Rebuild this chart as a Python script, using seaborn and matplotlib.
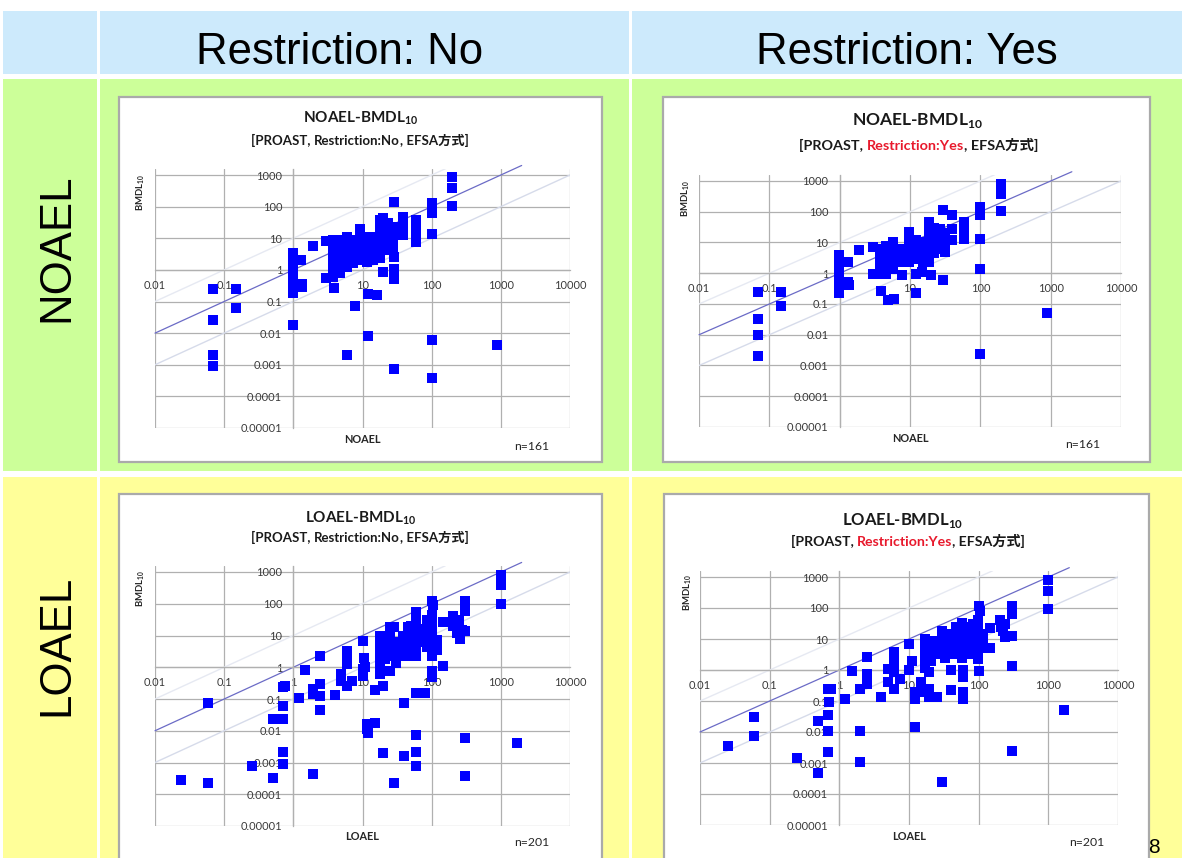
import numpy as np
import pandas as pd
import matplotlib
matplotlib.use("Agg")
import matplotlib.pyplot as plt
from matplotlib.patches import Rectangle
from matplotlib.ticker import FixedLocator, NullLocator
from matplotlib.offsetbox import TextArea, HPacker, AnnotationBbox
import seaborn as sns

# ---------------------------------------------------------------- data
# NOAEL vs BMDL10, PROAST without restriction
noael_no_x = [0.068, 0.068, 0.068, 0.068, 0.147, 0.147,
              1, 1, 1, 1, 1, 1, 1, 1, 1.27, 1.32, 1.35, 1.94, 3.0, 3.0, 3.9,
              5.9, 7.8, 12, 16, 12, 20, 29, 29, 29, 29, 29,
              39, 39, 39, 39, 59, 59, 59, 59, 100, 100, 100, 100, 100, 100,
              200, 200, 200, 890,
              3.8, 3.8, 3.8, 3.8, 3.8, 3.8, 3.8, 3.8, 3.8, 3.8, 3.8,
              4.7, 4.7, 4.7, 4.7, 4.7, 4.7, 4.7,
              5.9, 5.9, 5.9, 5.9, 5.9, 5.9,
              7.3, 7.3, 7.3, 7.3, 7.3,
              9.2, 9.2, 9.2, 9.2, 9.2, 9.2,
              11.5, 11.5, 11.5, 11.5, 11.5,
              14.3, 14.3, 14.3, 14.3, 14.3,
              17.8, 17.8, 17.8, 17.8, 17.8, 17.8, 17.8,
              20, 20, 20, 20, 20, 20,
              23.5, 23.5, 23.5, 23.5, 23.5,
              27.8, 27.8, 27.8, 27.8]
noael_no_bmdl = [0.24, 0.026, 0.0021, 0.00092, 0.25, 0.062,
                 3.3, 2.0, 1.25, 0.68, 0.42, 0.26, 0.19, 0.018, 2.1, 0.37, 0.29, 5.8, 8.1, 0.54, 0.27,
                 0.0021, 0.073, 0.17, 0.16, 0.008, 0.87, 145, 2.6, 1.1, 0.5, 0.00076,
                 48, 30, 20, 12.6, 38, 21, 12, 7.7, 132, 100, 61, 13.5, 0.006, 0.00039,
                 840, 380, 105, 0.0042,
                 8.7, 6.9, 5.4, 4.2, 3.3, 2.6, 2.0, 1.6, 1.25, 0.77, 0.6,
                 8.7, 5.4, 4.2, 2.6, 1.6, 0.98, 0.77,
                 11.2, 6.9, 4.2, 3.3, 2.0, 1.25,
                 8.7, 5.4, 3.3, 2.0, 1.6,
                 20, 14, 6.9, 4.2, 2.6, 2.0,
                 11.2, 6.9, 5.4, 2.6, 1.8,
                 11.2, 8.7, 4.2, 3.3, 2.0,
                 37, 23, 14, 8.7, 5.4, 3.3, 2.4,
                 45, 30, 18, 11, 6.9, 4.2,
                 29.5, 18, 11.2, 6.9, 4.2,
                 23, 14, 8.7, 5.4]

# NOAEL vs BMDL10, PROAST with restriction
noael_yes_x = [0.069, 0.069, 0.069, 0.069, 0.148, 0.148,
               0.98, 0.98, 0.98, 0.98, 0.98, 0.98, 1.31, 1.31, 1.35, 1.9, 2.96, 2.96,
               3.9, 4.8, 6.0, 7.8, 12, 12, 15, 20, 29.5, 29.5,
               40, 40, 40, 59, 59, 59, 100, 100, 100, 100, 100,
               195, 195, 195, 890,
               3.7, 3.7, 3.7, 3.7, 3.7,
               4.6, 4.6, 4.6, 4.6, 4.6,
               5.7, 5.7, 5.7, 5.7, 5.7,
               7.1, 7.1, 7.1,
               9.8, 9.8, 9.8, 9.8, 9.8,
               12.2, 12.2, 12.2, 12.2,
               15.2, 15.2, 15.2, 15.2,
               18.9, 18.9, 18.9, 18.9, 18.9, 18.9, 18.9,
               22.3, 22.3, 22.3, 22.3, 22.3,
               26.4, 26.4, 26.4, 26.4,
               31, 31, 31]
noael_yes_bmdl = [0.25, 0.033, 0.010, 0.0020, 0.25, 0.085,
                  3.8, 2.3, 1.1, 0.52, 0.36, 0.22, 2.3, 0.52, 0.4, 5.6, 7.1, 0.98,
                  0.26, 0.13, 0.15, 0.85, 0.22, 0.98, 1.1, 0.85, 0.59, 112,
                  76, 28, 12, 47, 22, 13, 142, 76, 13, 1.4, 0.0023,
                  820, 390, 103, 0.052,
                  6.3, 3.8, 2.3, 1.4, 0.98,
                  7.5, 5.0, 3.0, 1.8, 0.98,
                  10.4, 6.3, 3.8, 2.3, 1.4,
                  6.3, 3.8, 2.3,
                  22, 10.4, 6.3, 3.8, 2.3,
                  12, 8.0, 4.5, 3.0,
                  10.4, 6.3, 3.8, 2.3,
                  45, 28, 17, 10.4, 6.3, 3.8, 2.3,
                  30, 17, 10.4, 6.3, 4.5,
                  28, 17, 10.4, 6.3,
                  20, 10.4, 5.0]

# LOAEL vs BMDL10, PROAST without restriction
loael_no_x = [0.024, 0.059, 0.059, 0.25, 0.50, 0.50,
              0.70, 0.75, 0.70, 0.70, 0.70, 0.70, 1.22, 1.47,
              1.94, 1.94, 1.94, 2.42, 2.42, 2.42, 2.42,
              4.0, 4.9, 4.9, 5.9, 5.9, 5.9, 5.9, 7.0,
              10, 10, 10, 10.5, 11, 11.5, 11.5, 12, 15, 15, 20, 20,
              29, 29, 40, 40, 59, 59, 59, 59, 59, 80,
              100, 105, 100, 100, 118, 118, 147, 147,
              205, 205, 230, 250, 260, 270,
              300, 300, 300, 300, 300, 1000, 1000, 1000, 1700,
              17.8, 17.8, 17.8, 17.8, 17.8, 17.8, 17.8,
              21, 21, 21, 21,
              25, 25, 25, 25, 25, 25,
              31, 31, 31, 31,
              39, 39, 39, 39,
              46, 46, 46, 46, 46,
              51, 51, 51, 51,
              60, 60, 60, 60, 60, 60,
              71, 71, 71,
              85, 85, 85, 85, 85,
              100, 100, 100, 100, 100, 100]
loael_no_bmdl = [0.00029, 0.076, 0.00023, 0.00079, 0.024, 0.00032,
                 0.24, 0.25, 0.06, 0.024, 0.0021, 0.00091, 0.105, 0.81,
                 0.00044, 0.2, 0.14, 2.2, 0.29, 0.126, 0.044,
                 0.13, 0.6, 0.37, 3.3, 2.0, 1.26, 0.26, 0.37,
                 6.9, 0.87, 0.54, 2.0, 1.0, 0.016, 0.011, 0.0086, 0.19, 0.018, 0.002, 0.26,
                 18, 0.00022, 0.076, 0.0016, 54, 0.16, 0.0076, 0.0022, 0.00076, 0.16,
                 126, 90, 0.78, 0.48, 7.4, 3.6, 26, 1.1,
                 40, 20, 12, 30, 8, 15,
                 126, 61, 14, 0.006, 0.00038, 780, 380, 100, 0.0042,
                 9.9, 6.1, 4.0, 2.3, 1.4, 0.87, 0.6,
                 9.9, 6.1, 3.7, 1.8,
                 18, 10, 6.0, 3.7, 2.3, 0.75,
                 6.1, 3.7, 2.3, 1.4,
                 10, 6.1, 3.7, 2.3,
                 18, 10, 6.1, 3.7, 2.3,
                 20, 12, 6.1, 3.0,
                 26, 16, 10, 6.1, 3.7, 2.3,
                 16, 10, 6.1,
                 30, 20, 10, 6.1, 4.5,
                 43, 26, 16, 7.8, 3.7, 2.3]

# LOAEL vs BMDL10, PROAST with restriction
loael_yes_x = [0.025, 0.059, 0.059, 0.25, 0.50, 0.50,
               0.69, 0.77, 0.72, 0.69, 0.69, 0.69, 1.2, 1.5,
               1.97, 1.97, 1.97, 2.46, 2.46, 2.46, 2.46,
               4.0, 5.0, 5.0, 6.1, 6.1, 6.1, 6.1, 7.4,
               10, 10, 11, 12, 12, 12, 15, 15,
               19.5, 19.5, 19.5, 25, 29.5, 29.5, 29.5,
               40, 40, 60, 60, 60, 60, 100, 105, 100,
               145, 145, 200, 210, 220, 235, 240,
               300, 300, 300, 300, 300, 1000, 1000, 1000, 1700,
               16.9, 16.9, 16.9, 16.9, 16.9, 16.9,
               21, 21, 21, 21,
               26, 26, 26,
               33, 33, 33, 33,
               41, 41, 41, 41,
               48, 48, 48, 48, 48,
               57, 57, 57, 57, 57, 57,
               70, 70, 70, 70, 70,
               83, 83, 83, 83,
               98, 98, 98, 98, 98, 98, 98,
               115, 115, 115]
loael_yes_bmdl = [0.0035, 0.030, 0.0074, 0.00145, 0.023, 0.00048,
                  0.25, 0.25, 0.091, 0.035, 0.0107, 0.0022, 0.117, 0.91,
                  0.25, 0.0107, 0.0011, 2.6, 0.74, 0.51, 0.36,
                  0.13, 1.05, 0.4, 3.7, 1.8, 0.85, 0.25, 0.51,
                  6.9, 1.0, 2.0, 0.19, 0.12, 0.014, 0.4, 0.19,
                  0.85, 0.25, 0.13, 0.13, 18.5, 3.5, 0.00025,
                  1.0, 0.22, 1.0, 0.6, 0.2, 0.12, 117, 80, 0.96,
                  23, 5.3, 40, 25, 18, 12, 30,
                  117, 63, 12.7, 1.38, 0.0025, 780, 356, 96, 0.05,
                  10, 7.0, 5.0, 3.3, 2.0, 1.2,
                  8.8, 5.3, 3.3, 2.0,
                  8.8, 5.3, 3.3,
                  8.8, 5.3, 3.3, 2.5,
                  14.4, 8.8, 5.3, 3.3,
                  23.6, 14.4, 8.8, 5.3, 3.3,
                  33, 20, 12, 7.0, 4.0, 2.5,
                  23.6, 14.4, 8.8, 5.3, 3.3,
                  30, 18, 10, 6.0,
                  40, 23.6, 14.4, 8.8, 5.3, 3.3, 2.3,
                  14, 8.0, 5.3]

column_titles = ["Restriction: No", "Restriction: Yes"]
row_titles = ["NOAEL", "LOAEL"]
x_tick_values = [0.01, 0.1, 1, 10, 100, 1000, 10000]
x_tick_labels = ["0.01", "0.1", "1", "10", "100", "1000", "10000"]
y_tick_values = [1e-5, 1e-4, 1e-3, 1e-2, 0.1, 1, 10, 100, 1000]
y_tick_labels = ["0.00001", "0.0001", "0.001", "0.01", "0.1", "1", "10", "100", "1000"]
sample_sizes = ["n=161", "n=201"]

# ---------------------------------------------------------------- style
sns.set_theme(style="white")
plt.rcParams["font.family"] = ["Lato", "Noto Sans CJK JP", "DejaVu Sans"]
plt.rcParams["mathtext.fontset"] = "custom"
plt.rcParams["mathtext.rm"] = "Lato"
plt.rcParams["mathtext.bf"] = "Lato:bold"

W, H = 1182, 858
fig = plt.figure(figsize=(W / 100, H / 100), dpi=100)
fig.patch.set_facecolor("white")

HEAD = "#cdeafc"
GREEN = "#ccff99"
YELLOW = "#ffff99"
GRID = "#b0b0b0"
POINT = "#0000ff"
DIAG = "#6b6bc6"
FAINT_LOW = "#d6dbea"
FAINT_HIGH = "#e6e9f2"
TICK = "#3a3a3a"


def fx(x):
    return x / W


def fy(y):
    return 1 - y / H


def cell(x0, y0, x1, y1, color, edge=None, lw=0):
    fig.add_artist(Rectangle((fx(x0), fy(y1)), (x1 - x0) / W, (y1 - y0) / H,
                             transform=fig.transFigure, facecolor=color,
                             edgecolor=edge if edge else color, linewidth=lw,
                             zorder=0))


# table background
cols = [(3, 97), (100, 629), (632, 1182)]
rows = [(11, 74, HEAD), (79, 471, GREEN), (477, 870, YELLOW)]
for (y0, y1, c) in rows:
    for (x0, x1) in cols:
        cell(x0, y0, x1, y1, c)

for title, cx in zip(column_titles, [340, 907]):
    fig.text(fx(cx), fy(64), title, ha="center", va="baseline",
             fontsize=31.5, family=["Liberation Sans"], color="black")

for title, cy in zip(row_titles, [248, 645]):
    fig.text(fx(68), fy(cy), title, ha="center", va="baseline",
             rotation=90, rotation_mode="anchor",
             fontsize=31.5, family=["Liberation Sans"], color="black")

fig.text(fx(1154), fy(857), "8", ha="center", va="bottom", fontsize=15,
         family=["Liberation Sans"], color="black")


def subtitle(cx, cy, restricted, fs):
    props = dict(fontsize=fs, fontweight="bold", color="#1a1a1a")
    red = dict(fontsize=fs, fontweight="bold", color="#e8192c")
    parts = [TextArea("[PROAST, ", textprops=props)]
    if restricted:
        parts.append(TextArea("Restriction:Yes", textprops=red))
    else:
        parts.append(TextArea("Restriction:No", textprops=props))
    parts.append(TextArea(", EFSA方式]", textprops=props))
    pack = HPacker(children=parts, align="baseline", pad=0, sep=0)
    ab = AnnotationBbox(pack, (fx(cx), fy(cy)), xycoords="figure fraction",
                        box_alignment=(0.5, 0.5), frameon=False, pad=0)
    fig.add_artist(ab)


def panel(spec):
    bx0, by0, bx1, by1 = spec["box"]
    cell(bx0, by0, bx1, by1, "white", edge="#aaaaaa", lw=1.6)

    x0, x1, ytop, ybot = spec["plot"]
    dec = (ybot - ytop) / 8.0
    ytop_ax = ytop - 0.2 * dec
    ax = fig.add_axes([fx(x0), fy(ybot), (x1 - x0) / W, (ybot - ytop_ax) / H])
    ax.set_facecolor("none")
    ax.set_xscale("log")
    ax.set_yscale("log")
    ax.set_xlim(x_tick_values[0], x_tick_values[-1])
    ax.set_ylim(y_tick_values[0], 10 ** 3.2)

    ax.xaxis.set_major_locator(FixedLocator(x_tick_values))
    ax.yaxis.set_major_locator(FixedLocator(y_tick_values))
    ax.xaxis.set_minor_locator(NullLocator())
    ax.yaxis.set_minor_locator(NullLocator())
    ax.set_xticklabels(x_tick_labels)
    ax.set_yticklabels(y_tick_labels)
    ax.grid(True, which="major", color=GRID, linewidth=0.9, zorder=0)

    # axes cross at (1, 1)
    ax.spines["left"].set_position(("data", 1))
    ax.spines["bottom"].set_position(("data", 1))
    for s in ["top", "right"]:
        ax.spines[s].set_visible(False)
    for s in ["left", "bottom"]:
        ax.spines[s].set_color(GRID)
        ax.spines[s].set_linewidth(0.9)
    ax.tick_params(axis="both", length=0, labelsize=spec["tick_fs"],
                   labelcolor=TICK)
    ax.tick_params(axis="x", pad=7)
    ax.tick_params(axis="y", pad=8)

    # reference lines: BMDL = dose, 10x dose, dose/10
    lo = x_tick_values[0]
    ax.plot([lo, 2e3], [lo, 2e3], color=DIAG, linewidth=0.9, zorder=2,
            clip_on=False)
    ax.plot([lo, x_tick_values[-1]], [lo / 10, x_tick_values[-1] / 10],
            color=FAINT_LOW, linewidth=1.0, zorder=1)
    ax.plot([lo, 10 ** 2.2], [lo * 10, 10 ** 3.2], color=FAINT_HIGH,
            linewidth=1.0, zorder=1)

    df = pd.DataFrame({"dose": spec["xs"], "bmdl": spec["ys"]})
    sns.scatterplot(data=df, x="dose", y="bmdl", ax=ax, marker="s", s=50,
                    color=POINT, linewidth=0, zorder=3, legend=False,
                    clip_on=False)
    ax.set_xlabel("")
    ax.set_ylabel("")

    cx = spec["cx"]
    fig.text(fx(cx), fy(spec["title_y"]), spec["stem"] + r"-BMDL$_{\mathbf{10}}$",
             ha="center", va="center", fontsize=spec["title_fs"],
             fontweight="bold", color="#1a1a1a")
    subtitle(spec["sub_cx"], spec["sub_y"], spec["restricted"], spec["sub_fs"])
    fig.text(fx((x0 + x1) / 2), fy(spec["xlabel_y"]), spec["stem"],
             ha="center", va="center", fontsize=7.8, fontweight="bold",
             color="#262626")
    fig.text(fx(spec["n_pos"][0]), fy(spec["n_pos"][1]), spec["n"],
             ha="center", va="center", fontsize=8.8, color="#262626")
    fig.text(fx(spec["ylab_pos"][0]), fy(spec["ylab_pos"][1]),
             r"BMDL$_{\mathbf{10}}$", ha="center", va="top", rotation=90,
             fontsize=6.8, fontweight="bold", color="#262626")


specs = [
    dict(box=(119, 97, 602, 462), plot=(155, 570, 175, 428),
         xs=noael_no_x, ys=noael_no_bmdl, stem=row_titles[0], restricted=False,
         n=sample_sizes[0], cx=361, title_y=118, sub_cx=360, sub_y=140,
         xlabel_y=439, n_pos=(532, 447), ylab_pos=(141, 174),
         title_fs=11, sub_fs=9.5, tick_fs=7.9),
    dict(box=(663, 97, 1150, 462), plot=(699, 1121, 181, 427),
         xs=noael_yes_x, ys=noael_yes_bmdl, stem=row_titles[0], restricted=True,
         n=sample_sizes[0], cx=917, title_y=120, sub_cx=919, sub_y=145,
         xlabel_y=438, n_pos=(1083, 444), ylab_pos=(686, 180),
         title_fs=12.5, sub_fs=10.4, tick_fs=8.0),
    dict(box=(119, 494, 602, 880), plot=(155, 570, 572, 826),
         xs=loael_no_x, ys=loael_no_bmdl, stem=row_titles[1], restricted=False,
         n=sample_sizes[1], cx=361, title_y=518, sub_cx=360, sub_y=537,
         xlabel_y=836, n_pos=(532, 843), ylab_pos=(141, 570),
         title_fs=11, sub_fs=9.5, tick_fs=7.9),
    dict(box=(664, 494, 1149, 880), plot=(700, 1118, 577, 825),
         xs=loael_yes_x, ys=loael_yes_bmdl, stem=row_titles[1], restricted=True,
         n=sample_sizes[1], cx=903, title_y=520, sub_cx=908, sub_y=541,
         xlabel_y=836, n_pos=(1087, 843), ylab_pos=(688, 574),
         title_fs=12, sub_fs=10.2, tick_fs=8.0),
]

for spec in specs:
    panel(spec)

fig.savefig("out.png", dpi=100, facecolor=fig.get_facecolor())
